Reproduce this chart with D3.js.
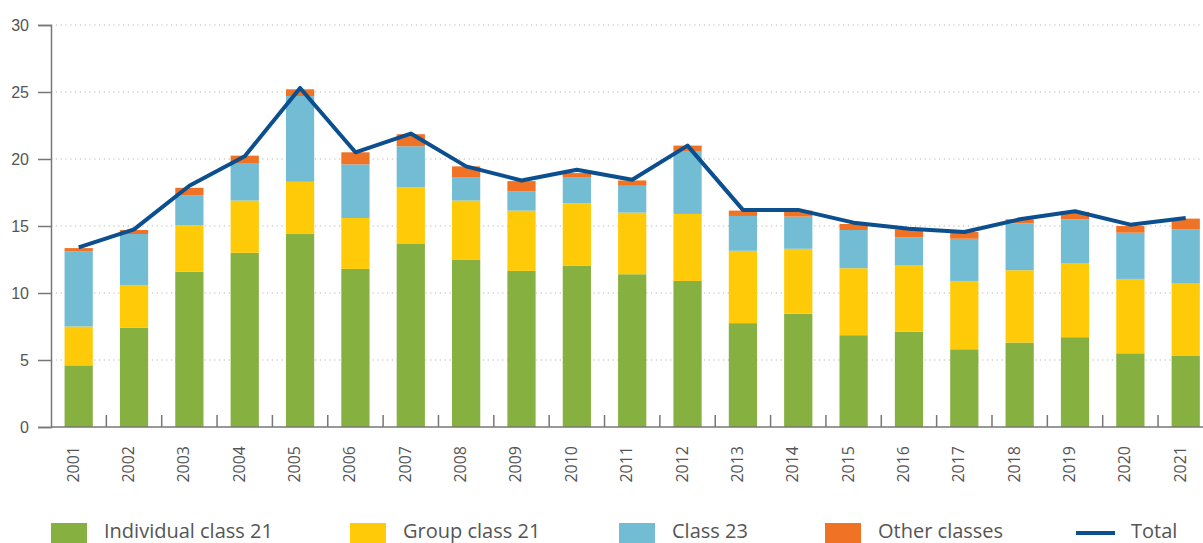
<!DOCTYPE html>
<html>
<head>
<meta charset="utf-8">
<script src="https://cdn.jsdelivr.net/npm/d3@7"></script>
<style>
  body { margin: 0; background: #fff; }
  svg { display: block; font-family: "Open Sans", "Noto Sans", sans-serif; }
</style>
</head>
<body>
<svg id="chart" width="1203" height="543"></svg>
<script>
// years on the x axis
const years = ["2001","2002","2003","2004","2005","2006","2007","2008","2009","2010",
  "2011","2012","2013","2014","2015","2016","2017","2018","2019","2020","2021"];

// stacked series
const individual21 = [4.6,7.4,11.6,13.0,14.4,11.8,13.7,12.5,11.65,12.05,11.4,10.9,7.75,8.45,6.85,7.1,5.8,6.3,6.7,5.5,5.3];
const group21 = [2.9,3.2,3.45,3.9,3.9,3.8,4.2,4.4,4.5,4.65,4.6,5.0,5.4,4.85,5.0,4.95,5.1,5.4,5.5,5.55,5.4];
const class23 = [5.6,3.8,2.25,2.8,6.4,4.0,3.05,1.75,1.45,1.95,2.0,4.7,2.6,2.4,2.85,2.1,3.15,3.5,3.3,3.45,4.05];
const otherClasses = [0.25,0.3,0.55,0.55,0.5,0.9,0.9,0.8,0.75,0.3,0.4,0.4,0.4,0.45,0.45,0.6,0.5,0.3,0.55,0.5,0.8];

// total line
const total = [13.4,14.75,18.0,20.2,25.3,20.5,21.9,19.45,18.4,19.2,18.45,21.0,16.2,16.2,15.25,14.8,14.55,15.5,16.1,15.1,15.6];

const yTicks = [0,5,10,15,20,25,30];

const keys = ["Individual class 21","Group class 21","Class 23","Other classes"];
const colors = ["#86b03f","#ffcb08","#72bcd4","#f07224"];
const lineColor = "#0b4f8e";

const rows = years.map((yr, i) => ({
  year: yr,
  "Individual class 21": individual21[i],
  "Group class 21": group21[i],
  "Class 23": class23[i],
  "Other classes": otherClasses[i]
}));

const svg = d3.select("#chart");

const x = d3.scaleBand().domain(years).range([51, 1213.4]).paddingInner(0.49).paddingOuter(0.245);
const y = d3.scaleLinear().domain([0, 30]).range([427, 25]);

// dotted gridlines
svg.append("g").selectAll("line").data(yTicks.filter(d => d > 0)).join("line")
  .attr("x1", 51).attr("x2", 1203)
  .attr("y1", d => y(d)).attr("y2", d => y(d))
  .attr("stroke", "#b4b4b4").attr("stroke-width", 1.2)
  .attr("stroke-dasharray", "1.2,3.6");

// bars
const series = d3.stack().keys(keys)(rows);
const color = d3.scaleOrdinal().domain(keys).range(colors);

svg.append("g").selectAll("g").data(series).join("g")
  .attr("fill", d => color(d.key))
  .selectAll("rect").data(d => d).join("rect")
  .attr("x", d => x(d.data.year))
  .attr("width", x.bandwidth())
  .attr("y", d => y(d[1]))
  .attr("height", d => y(d[0]) - y(d[1]));

// y axis
const yAxis = svg.append("g").attr("transform", "translate(51,0)")
  .call(d3.axisLeft(y).tickValues(yTicks).tickSize(13).tickPadding(9));
yAxis.select(".domain").attr("stroke", "#777").attr("stroke-width", 1.5);
yAxis.selectAll(".tick line").attr("stroke", "#777").attr("stroke-width", 1.5);
yAxis.selectAll(".tick text").attr("fill", "#555").style("font-size", "16px");

// x axis
svg.append("line").attr("x1", 51).attr("x2", 1203).attr("y1", y(0)).attr("y2", y(0))
  .attr("stroke", "#777").attr("stroke-width", 1.5);

const step = x.step();
svg.append("g").selectAll("line").data(d3.range(1, years.length + 1)).join("line")
  .attr("x1", i => x.range()[0] + i * step).attr("x2", i => x.range()[0] + i * step)
  .attr("y1", y(0)).attr("y2", y(0) - 12)
  .attr("stroke", "#777").attr("stroke-width", 1.5);

svg.append("g").selectAll("text").data(years).join("text")
  .attr("transform", d => `translate(${x(d) + x.bandwidth() / 2},446) rotate(-90)`)
  .attr("text-anchor", "end")
  .attr("fill", "#555")
  .style("font-size", "16px")
  .text(d => d);

// total line
const line = d3.line().x((d, i) => x(years[i]) + x.bandwidth() / 2).y(d => y(d));
svg.append("path").datum(total)
  .attr("d", line)
  .attr("fill", "none")
  .attr("stroke", lineColor)
  .attr("stroke-width", 4)
  .attr("stroke-linejoin", "round");

// legend
const legendX = [51, 350, 619, 825];
const legend = svg.append("g");
keys.forEach((k, i) => {
  legend.append("rect").attr("x", legendX[i]).attr("y", 523).attr("width", 36).attr("height", 22).attr("fill", colors[i]);
  legend.append("text").attr("x", legendX[i] + 53).attr("y", 538)
    .attr("fill", "#555").style("font-size", "20px").text(k);
});
legend.append("line").attr("x1", 1076).attr("x2", 1115).attr("y1", 533).attr("y2", 533)
  .attr("stroke", lineColor).attr("stroke-width", 4);
legend.append("text").attr("x", 1131).attr("y", 538).attr("fill", "#555").style("font-size", "20px").text("Total");
</script>
</body>
</html>
